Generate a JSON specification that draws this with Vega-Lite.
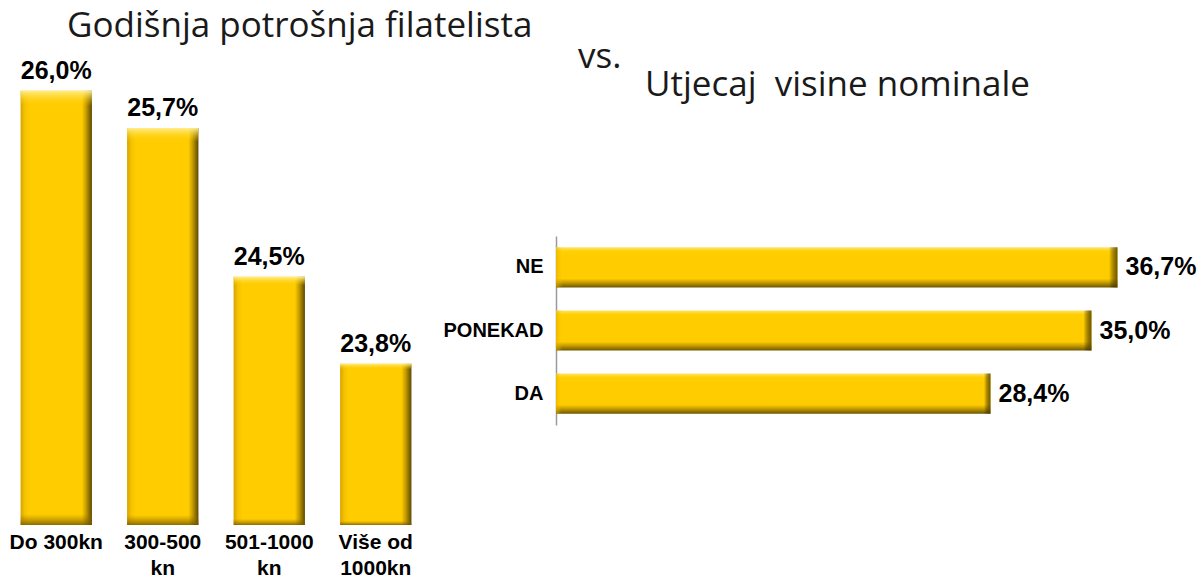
{
  "$schema": "https://vega.github.io/schema/vega-lite/v6.json",
  "background": "white",
  "padding": {"left": 3, "top": 8, "right": 0, "bottom": 0},
  "bounds": "flush",
  "spacing": 127,
  "config": {
    "view": {"stroke": null},
    "font": "Liberation Sans",
    "title": {"font": "Open Sans", "fontWeight": "normal", "fontSize": 35, "color": "#1a1a1a", "anchor": "start", "frame": "group"}
  },
  "datasets": {
    "potrosnja": [
      {"kategorija": "Do 300kn", "udio": 26.0, "oznaka": "26,0%"},
      {"kategorija": "300-500 kn", "udio": 25.7, "oznaka": "25,7%"},
      {"kategorija": "501-1000 kn", "udio": 24.5, "oznaka": "24,5%"},
      {"kategorija": "Više od 1000kn", "udio": 23.8, "oznaka": "23,8%"}
    ],
    "nominala": [
      {"odgovor": "NE", "udio": 36.7, "oznaka": "36,7%"},
      {"odgovor": "PONEKAD", "udio": 35.0, "oznaka": "35,0%"},
      {"odgovor": "DA", "udio": 28.4, "oznaka": "28,4%"}
    ]
  },
  "hconcat": [
    {
      "width": 426,
      "height": 438,
      "title": {"text": "Godišnja potrošnja filatelista", "dx": 64, "offset": 15},
      "data": {"name": "potrosnja"},
      "encoding": {
        "x": {
          "field": "kategorija", "type": "nominal", "sort": null,
          "scale": {"paddingInner": 0.33, "paddingOuter": 0.165},
          "axis": {
            "title": null, "labelAngle": 0, "ticks": false, "domain": false,
            "labelFontSize": 21, "labelFontWeight": "bold", "labelColor": "black",
            "labelPadding": 6, "labelLineHeight": 26, "labelLimit": 0, "labelBaseline": "top",
            "labelExpr": "datum.label == 'Do 300kn' ? datum.label : (datum.label == 'Više od 1000kn' ? ['Više od', '1000kn'] : split(datum.label, ' '))"
          }
        },
        "y": {"field": "udio", "type": "quantitative", "scale": {"domain": [22.5, 26.03], "zero": false, "nice": false}, "axis": null}
      },
      "layer": [
        {
          "mark": {"type": "bar", "stroke": null, "fill": {"gradient": "linear", "x1": 0, "y1": 0, "x2": 1, "y2": 0, "stops": [
            {"offset": 0, "color": "#D9A400"}, {"offset": 0.06, "color": "#F5C200"}, {"offset": 0.12, "color": "#FFCC00"},
            {"offset": 0.86, "color": "#FFCC00"}, {"offset": 0.92, "color": "#C29A00"}, {"offset": 1, "color": "#5C4800"}]}},
          "encoding": {"y2": {"datum": 22.5}}
        },
        {
          "mark": {"type": "bar", "stroke": null, "fill": {"gradient": "linear", "x1": 0, "y1": 0, "x2": 0, "y2": 1, "stops": [
            {"offset": 0, "color": "rgba(255,240,150,0.95)"}, {"offset": 0.02, "color": "rgba(255,220,60,0.4)"}, {"offset": 0.035, "color": "rgba(255,204,0,0)"},
            {"offset": 0.975, "color": "rgba(150,110,0,0)"}, {"offset": 1, "color": "rgba(110,85,0,0.8)"}]}},
          "encoding": {"y2": {"datum": 22.5}}
        },
        {
          "mark": {"type": "text", "baseline": "bottom", "align": "center", "dy": -7, "fontSize": 25, "fontWeight": "bold", "color": "black"},
          "encoding": {"text": {"field": "oznaka"}}
        }
      ]
    },
    {
      "bounds": "flush",
      "spacing": 148,
      "vconcat": [
        {
          "width": 1,
          "height": 1,
          "title": {"text": "vs.", "dx": 22, "offset": 10},
          "data": {"values": [{}]},
          "mark": {"type": "point", "opacity": 0},
          "encoding": {}
        },
        {
          "width": 612,
          "height": 189,
          "title": {"text": "Utjecaj\u00a0 visine nominale", "dx": 89, "offset": 133},
          "data": {"name": "nominala"},
          "encoding": {
            "y": {
              "field": "odgovor", "type": "nominal", "sort": null,
              "scale": {"paddingInner": 0.365, "paddingOuter": 0.18},
              "axis": {"title": null, "ticks": false, "grid": false, "domainColor": "#9a9a9a", "domainWidth": 1.5,
                "labelFontSize": 20, "labelFontWeight": "bold", "labelColor": "black", "labelPadding": 13}
            },
            "x": {"field": "udio", "type": "quantitative", "scale": {"domain": [0, 40], "nice": false}, "axis": null}
          },
          "layer": [
            {
              "mark": {"type": "bar", "stroke": null, "fill": {"gradient": "linear", "x1": 0, "y1": 0, "x2": 0, "y2": 1, "stops": [
                {"offset": 0, "color": "#FFE36A"}, {"offset": 0.1, "color": "#FFD000"}, {"offset": 0.2, "color": "#FFCC00"},
                {"offset": 0.78, "color": "#FFCC00"}, {"offset": 0.88, "color": "#C49B00"}, {"offset": 1, "color": "#6E5600"}]}}
            },
            {
              "mark": {"type": "bar", "stroke": null, "fill": {"gradient": "linear", "x1": 0, "y1": 0, "x2": 1, "y2": 0, "stops": [
                {"offset": 0, "color": "rgba(220,170,0,0.6)"}, {"offset": 0.012, "color": "rgba(255,204,0,0)"},
                {"offset": 0.985, "color": "rgba(0,0,0,0)"}, {"offset": 1, "color": "rgba(90,70,0,0.85)"}]}}
            },
            {
              "mark": {"type": "text", "align": "left", "baseline": "middle", "dx": 8, "fontSize": 25, "fontWeight": "bold", "color": "black"},
              "encoding": {"text": {"field": "oznaka"}}
            }
          ]
        }
      ]
    }
  ]
}
